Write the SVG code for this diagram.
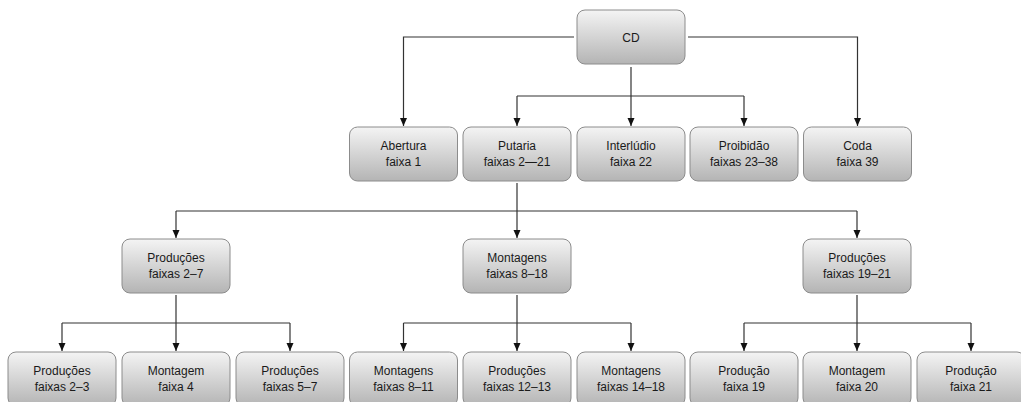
<svg xmlns="http://www.w3.org/2000/svg" width="1021" height="402" viewBox="0 0 1021 402">
<defs>
<linearGradient id="g" x1="0" y1="0" x2="0" y2="1">
<stop offset="0" stop-color="#f4f4f4"/>
<stop offset="1" stop-color="#b4b4b4"/>
</linearGradient>
<marker id="arr" viewBox="0 0 8 8" refX="8" refY="4" markerWidth="8" markerHeight="8" markerUnits="userSpaceOnUse" orient="auto">
<path d="M0,0.5 L8,4 L0,7.5 Z" fill="#111"/>
</marker>
</defs>
<style>
.box{fill:url(#g);stroke:#8c8c8c;stroke-width:1}
.t{font-family:"Liberation Sans",Arial,sans-serif;font-size:12px;fill:#1a1a1a;text-anchor:middle}
.c{fill:none;stroke:#333;stroke-width:1.2}
.a{marker-end:url(#arr)}
</style>
<rect width="1021" height="402" fill="#fff"/>
<g id="connectors">
<path class="c a" d="M574,37 H403.5 V126"/>
<path class="c a" d="M688,37 H857.5 V126"/>
<path class="c a" d="M631,67 V126"/>
<path class="c" d="M517,96 H744"/>
<path class="c a" d="M517,96 V126"/>
<path class="c a" d="M744,96 V126"/>
<path class="c a" d="M517,183 V238"/>
<path class="c" d="M176,211 H857"/>
<path class="c a" d="M176,211 V238"/>
<path class="c a" d="M857,211 V238"/>
<path class="c a" d="M176,295 V351"/>
<path class="c" d="M62,323 H290"/>
<path class="c a" d="M62,323 V351"/>
<path class="c a" d="M290,323 V351"/>
<path class="c a" d="M517,295 V351"/>
<path class="c" d="M403.5,323 H631"/>
<path class="c a" d="M403.5,323 V351"/>
<path class="c a" d="M631,323 V351"/>
<path class="c a" d="M857,295 V351"/>
<path class="c" d="M744,323 H971"/>
<path class="c a" d="M744,323 V351"/>
<path class="c a" d="M971,323 V351"/>
</g>
<g id="cd"><rect class="box" x="577" y="10" width="108" height="54" rx="8"/><text class="t" x="631" y="41.5">CD</text></g>
<g id="abertura"><rect class="box" x="349.5" y="127" width="108" height="54" rx="8"/><text class="t" x="403.5" y="150">Abertura</text><text class="t" x="403.5" y="166">faixa 1</text></g>
<g id="putaria"><rect class="box" x="463" y="127" width="108" height="54" rx="8"/><text class="t" x="517" y="150">Putaria</text><text class="t" x="517" y="166">faixas 2—21</text></g>
<g id="interludio"><rect class="box" x="577" y="127" width="108" height="54" rx="8"/><text class="t" x="631" y="150">Interlúdio</text><text class="t" x="631" y="166">faixa 22</text></g>
<g id="proibidao"><rect class="box" x="690" y="127" width="108" height="54" rx="8"/><text class="t" x="744" y="150">Proibidão</text><text class="t" x="744" y="166">faixas 23–38</text></g>
<g id="coda"><rect class="box" x="803.5" y="127" width="108" height="54" rx="8"/><text class="t" x="857.5" y="150">Coda</text><text class="t" x="857.5" y="166">faixa 39</text></g>
<g id="producoes-2-7"><rect class="box" x="122" y="239" width="108" height="54" rx="8"/><text class="t" x="176" y="262">Produções</text><text class="t" x="176" y="278">faixas 2–7</text></g>
<g id="montagens-8-18"><rect class="box" x="463" y="239" width="108" height="54" rx="8"/><text class="t" x="517" y="262">Montagens</text><text class="t" x="517" y="278">faixas 8–18</text></g>
<g id="producoes-19-21"><rect class="box" x="803" y="239" width="108" height="54" rx="8"/><text class="t" x="857" y="262">Produções</text><text class="t" x="857" y="278">faixas 19–21</text></g>
<g id="producoes-2-3"><rect class="box" x="8" y="352" width="108" height="54" rx="8"/><text class="t" x="62" y="375">Produções</text><text class="t" x="62" y="391">faixas 2–3</text></g>
<g id="montagem-4"><rect class="box" x="122" y="352" width="108" height="54" rx="8"/><text class="t" x="176" y="375">Montagem</text><text class="t" x="176" y="391">faixa 4</text></g>
<g id="producoes-5-7"><rect class="box" x="236" y="352" width="108" height="54" rx="8"/><text class="t" x="290" y="375">Produções</text><text class="t" x="290" y="391">faixas 5–7</text></g>
<g id="montagens-8-11"><rect class="box" x="349.5" y="352" width="108" height="54" rx="8"/><text class="t" x="403.5" y="375">Montagens</text><text class="t" x="403.5" y="391">faixas 8–11</text></g>
<g id="producoes-12-13"><rect class="box" x="463" y="352" width="108" height="54" rx="8"/><text class="t" x="517" y="375">Produções</text><text class="t" x="517" y="391">faixas 12–13</text></g>
<g id="montagens-14-18"><rect class="box" x="577" y="352" width="108" height="54" rx="8"/><text class="t" x="631" y="375">Montagens</text><text class="t" x="631" y="391">faixas 14–18</text></g>
<g id="producao-19"><rect class="box" x="690" y="352" width="108" height="54" rx="8"/><text class="t" x="744" y="375">Produção</text><text class="t" x="744" y="391">faixa 19</text></g>
<g id="montagem-20"><rect class="box" x="803" y="352" width="108" height="54" rx="8"/><text class="t" x="857" y="375">Montagem</text><text class="t" x="857" y="391">faixa 20</text></g>
<g id="producao-21"><rect class="box" x="917" y="352" width="108" height="54" rx="8"/><text class="t" x="971" y="375">Produção</text><text class="t" x="971" y="391">faixa 21</text></g>
</svg>
